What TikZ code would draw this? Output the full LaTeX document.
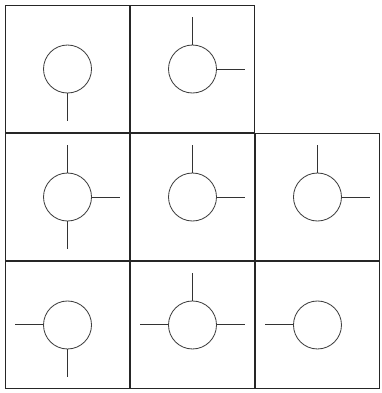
\documentclass[tikz,border=0pt]{standalone}
\usepackage{tikz}
\usetikzlibrary{positioning, matrix}

\begin{document}
\begin{tikzpicture}[
  x=0.25mm, y=-0.25mm, % one unit is one pixel of the reference
  every matrix/.style={
    matrix of nodes,
    nodes in empty cells,
    % the three sep setting make overlapping look neat
    row sep=+-.5\pgflinewidth,
    column sep=+-.5\pgflinewidth,
    inner sep=+-.5\pgflinewidth,
  },
  port/.style={circle, draw=black!75, line width=0.6pt,
    minimum size=12mm, inner sep=0pt},
  stub/.style={draw=black!80, line width=0.7pt},
]
  \useasboundingbox (0,0) rectangle (382,393);

  % grid of cells
  \matrix[
    nodes={draw=black!85, line width=0.9pt,
      minimum width=31mm, minimum height=31.75mm},
    row 1 column 3/.style={nodes={draw=none}}, % empty corner
  ](grid) at (192.5,197) {
     & & \\
     & & \\
     & & \\
  };

  % one circle in every cell but the corner
  \foreach \cell in {1-1,1-2,2-1,2-2,2-3,3-1,3-2,3-3}
    \node[port] (p-\cell) at (grid-\cell) {};

  % stubs, by angle
  \foreach \cell/\angles in {1-1/{270}, 1-2/{90,0}, 2-1/{90,270,0},
      2-2/{90,0}, 2-3/{90,0}, 3-1/{180,270}, 3-2/{90,180,0}, 3-3/{180}}
    \foreach \a in \angles
      \draw[stub] (p-\cell.\a) -- ++(\a:7mm);

\end{tikzpicture}
\end{document}
